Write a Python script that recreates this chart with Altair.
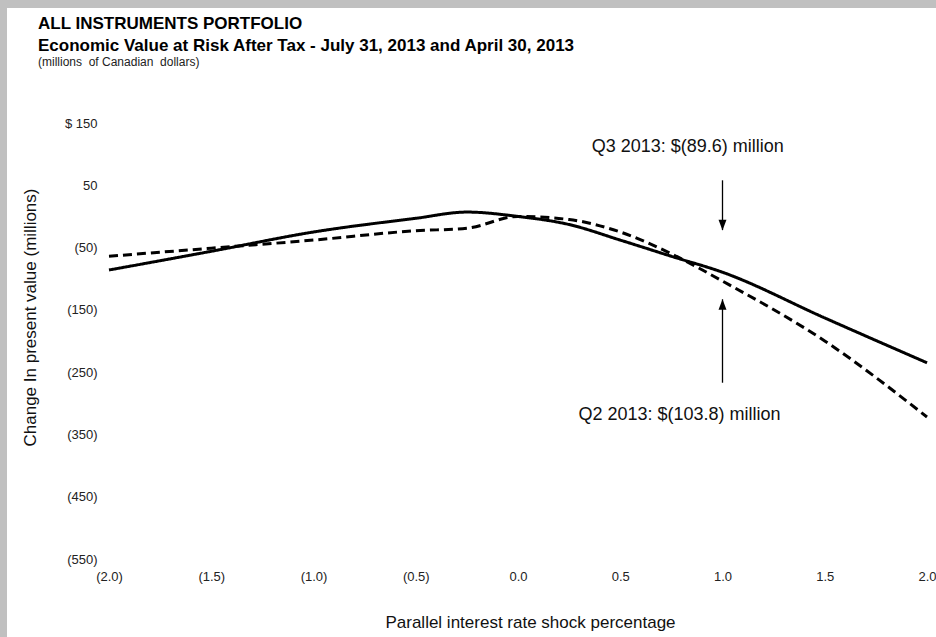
import altair as alt
import pandas as pd

# ---- data ----
shock = [-2.0, -1.5, -1.0, -0.5, -0.25, 0.0, 0.25, 0.5, 0.75, 1.0, 1.5, 2.0]
q3_2013 = [-86, -56, -25, -3, 7, 0, -13, -38, -64, -89.6, -163, -235]
q2_2013 = [-64, -51, -38, -23, -19, 0, -5, -25, -60, -103.8, -200, -322]

x_ticks = [-2.0, -1.5, -1.0, -0.5, 0.0, 0.5, 1.0, 1.5, 2.0]
y_ticks = [150, 50, -50, -150, -250, -350, -450, -550]

ann_text = ["Q3 2013: $(89.6) million", "Q2 2013: $(103.8) million"]
ann_x = [0.83, 0.79]
ann_y = [111, -319]

arrow_x = [1.0, 1.0]
arrow_from = [58, -267]
arrow_to = [-22, -133]
arrow_shape = ["M-1,-2.6L1,-2.6L0,0Z", "M-1,2.6L1,2.6L0,0Z"]

FONT = "Liberation Sans"
W, H = 818, 436
PAD = {"left": 109, "top": 123, "right": 9, "bottom": 78}

rows = []
for s, a, b in zip(shock, q3_2013, q2_2013):
    rows.append({"shock": s, "value": a, "series": "Q3 2013"})
    rows.append({"shock": s, "value": b, "series": "Q2 2013"})
lines_df = pd.DataFrame(rows)

ann_df = pd.DataFrame({"x": ann_x, "y": ann_y, "text": ann_text})
arr_df = pd.DataFrame({"x": arrow_x, "y": arrow_from, "y2": arrow_to, "shape": arrow_shape})

xscale = alt.Scale(domain=[-2, 2], nice=False, zero=False)
yscale = alt.Scale(domain=[-550, 150], nice=False, zero=False)

x_axis = alt.Axis(
    values=x_ticks, zindex=1,
    labelExpr="datum.value < 0 ? '(' + format(-datum.value, '.1f') + ')' : format(datum.value, '.1f')",
    grid=False, domain=False, ticks=False, labelFlush=False, labelOverlap=False,
    labelPadding=11, labelFontSize=13, labelFont=FONT, labelColor="#222",
    title="Parallel interest rate shock percentage",
    titleFont=FONT, titleFontSize=17, titleFontWeight="normal", titleColor="#111",
    titleX=421, titleY=63, titleBaseline="middle", titleAlign="center",
)
y_axis = alt.Axis(
    values=y_ticks, zindex=1,
    labelExpr="datum.value == 150 ? '$ 150' : (datum.value < 0 ? '(' + (-datum.value) + ')' : datum.value + '\u00a0\u00a0')",
    grid=False, domain=False, ticks=False, labelOverlap=False,
    labelPadding=12, labelFontSize=13, labelFont=FONT, labelColor="#222", labelAlign="right",
    title="Change In present value (millions)",
    titleFont=FONT, titleFontSize=17, titleFontWeight="normal", titleColor="#111",
    titleX=-79, titleY=194, titleAngle=-90, titleBaseline="middle", titleAlign="center",
)

frame = alt.Chart(pd.DataFrame({"k": [0]})).mark_rect(color="white").encode(
    x=alt.value(7 - PAD["left"]), x2=alt.value(W + PAD["right"]),
    y=alt.value(8 - PAD["top"]), y2=alt.value(H + PAD["bottom"]),
)

lines = alt.Chart(lines_df).mark_line(interpolate="monotone", strokeWidth=3, color="black").encode(
    x=alt.X("shock:Q", scale=xscale, axis=x_axis),
    y=alt.Y("value:Q", scale=yscale, axis=y_axis),
    strokeDash=alt.StrokeDash("series:N", scale=alt.Scale(domain=["Q3 2013", "Q2 2013"], range=[[1, 0], [9, 5]]), legend=None),
    detail="series:N",
)

rules = alt.Chart(arr_df).mark_rule(color="black", strokeWidth=1.3).encode(
    x=alt.X("x:Q", scale=xscale), y=alt.Y("y:Q", scale=yscale), y2="y2:Q",
)
heads = alt.Chart(arr_df).mark_point(filled=True, color="black", size=64, opacity=1).encode(
    x=alt.X("x:Q", scale=xscale), y=alt.Y("y2:Q", scale=yscale),
    shape=alt.Shape("shape:N", scale=None),
)

texts = alt.Chart(ann_df).mark_text(font=FONT, fontSize=18, color="#111", align="center", baseline="middle").encode(
    x=alt.X("x:Q", scale=xscale), y=alt.Y("y:Q", scale=yscale), text="text:N",
)

chart = alt.layer(frame, lines, rules, heads, texts).properties(
    width=W, height=H,
    padding=PAD,
    autosize=alt.AutoSizeParams(type="none"),
    background="#c0c0c0",
    title=alt.TitleParams(
        text=["ALL INSTRUMENTS PORTFOLIO", "Economic Value at Risk After Tax - July 31, 2013 and April 30, 2013"],
        subtitle="(millions\u00a0 of Canadian\u00a0 dollars)",
        anchor="start", frame="group", dx=38 - 109, offset=0, dy=61,
        font=FONT, fontSize=17, fontWeight="bold", color="#000", lineHeight=22,
        subtitleFont=FONT, subtitleFontSize=12, subtitleColor="#222", subtitlePadding=2,
    ),
).configure_view(stroke=None)

chart.save("out.html", embed_options={"renderer": "svg", "actions": False})
